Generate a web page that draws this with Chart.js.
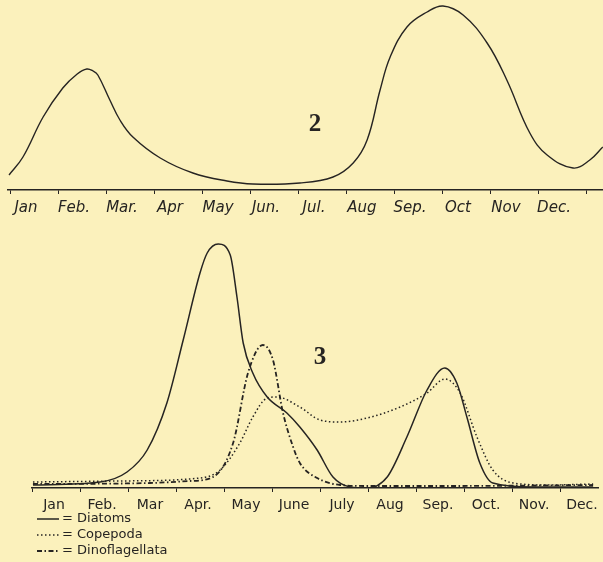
<!DOCTYPE html>
<html>
<head>
<meta charset="utf-8">
<script src="https://cdn.jsdelivr.net/npm/chart.js@4"></script>
<style>
  html, body { margin: 0; padding: 0; background: #fbf1bc; width: 603px; height: 562px; overflow: hidden; }
  canvas { position: absolute; left: 0; }
  #top { top: 0; }
  #bottom { top: 230px; }
</style>
</head>
<body>
<canvas id="top" width="603" height="220"></canvas>
<canvas id="bottom" width="603" height="332"></canvas>
<script>
// month labels, as lettered under each panel
const topMonths = ["Jan", "Feb.", "Mar.", "Apr", "May", "Jun.", "Jul.", "Aug", "Sep.", "Oct", "Nov", "Dec."];
const bottomMonths = ["Jan", "Feb.", "Mar", "Apr.", "May", "June", "July", "Aug", "Sep.", "Oct.", "Nov.", "Dec."];

// panel 2 - single curve (time in months from 1 Jan, relative abundance)
const panel2Time = [-0.02, 0.27, 0.69, 1.10, 1.40, 1.60, 1.73, 1.83, 2.08, 2.29, 2.56, 3.13, 3.81, 4.52, 5.06, 6.04, 6.73, 7.15, 7.44, 7.71, 7.92, 8.27, 8.69, 9.02, 9.44, 9.94, 10.35, 10.83, 11.19, 11.73, 12.08, 12.35];
const panel2Values = [15, 33, 73, 102, 116, 121, 119, 115, 90, 70, 53, 32, 17, 9, 6, 7, 13, 27, 50, 100, 133, 163, 178, 184, 175, 147, 110, 57, 35, 22, 30, 43];

// panel 3 - three groups
const diatomTime = [0.02, 1.42, 1.98, 2.40, 2.81, 3.15, 3.50, 3.65, 3.88, 4.13, 4.27, 4.40, 4.60, 4.90, 5.31, 5.58, 5.94, 6.27, 6.63, 6.98, 7.40, 7.81, 8.23, 8.60, 8.85, 9.06, 9.33, 9.60, 10.44, 11.69];
const diatomValues = [3, 6, 16, 38, 85, 148, 215, 235, 244, 233, 191, 145, 115, 91, 75, 61, 38, 11, 1, 0, 11, 51, 98, 120, 105, 71, 25, 5, 1, 1];

const copepodTime = [0.02, 1.83, 3.50, 3.92, 4.33, 4.60, 4.90, 5.10, 5.58, 6.00, 6.42, 6.98, 7.67, 8.23, 8.60, 8.92, 9.27, 9.60, 10.02, 10.79, 11.69];
const copepodValues = [6, 7, 10, 18, 45, 71, 90, 91, 81, 68, 66, 70, 81, 95, 109, 95, 51, 18, 5, 3, 4];

const dinoTime = [0.02, 2.46, 3.29, 3.77, 4.19, 4.50, 4.81, 5.02, 5.23, 5.44, 5.58, 5.94, 6.42, 6.98, 8.70, 11.69];
const dinoValues = [4, 5, 7, 11, 45, 115, 143, 128, 75, 41, 25, 10, 3, 2, 2, 3];

const INK = "#262422";

function pts(xs, ys) {
  return xs.map((x, i) => ({ x: x, y: ys[i] }));
}

function line(label, xs, ys, dash, width, smooth) {
  const ds = {
    label: label,
    data: pts(xs, ys),
    borderColor: INK,
    borderWidth: width,
    borderDash: dash,
    pointRadius: 0,
    fill: false,
  };
  if (smooth) ds.tension = smooth;
  else ds.cubicInterpolationMode = "monotone";
  return ds;
}

function monthAxis(min, max, names, offset, axisHeight, font) {
  return {
    type: "linear",
    min: min,
    max: max,
    afterBuildTicks: (scale) => {
      scale.ticks = names.map((_, i) => ({ value: i })).concat([{ value: names.length }]);
    },
    afterFit: (scale) => {
      scale.height = axisHeight;
      scale.paddingLeft = 0;
      scale.paddingRight = 0;
    },
    ticks: {
      autoSkip: false,
      maxRotation: 0,
      minRotation: 0,
      padding: 5,
      labelOffset: offset,
      color: INK,
      font: font,
      callback: (v) => names[v] || "",
    },
    grid: { drawOnChartArea: false, drawTicks: true, tickLength: 4, color: INK, lineWidth: 1 },
    border: { display: true, color: INK, width: 1.4 },
  };
}

// big panel numbers drawn in the plot
const panelNumber = {
  id: "panelNumber",
  afterDraw(chart, _args, opts) {
    const ctx = chart.ctx;
    ctx.save();
    ctx.fillStyle = INK;
    ctx.font = "bold 25px 'Liberation Serif', serif";
    ctx.textAlign = "center";
    ctx.textBaseline = "middle";
    ctx.fillText(opts.text, opts.x, opts.y);
    ctx.restore();
  },
};

// hand-drawn style key below the month axis
const keyPlugin = {
  id: "keyPlugin",
  afterDraw(chart, _args, opts) {
    if (!opts.show) return;
    const ctx = chart.ctx;
    ctx.save();
    chart.data.datasets.forEach((ds, i) => {
      const y = opts.y + i * opts.step;
      ctx.strokeStyle = INK;
      ctx.lineWidth = ds.borderWidth;
      ctx.setLineDash(ds.borderDash || []);
      ctx.beginPath();
      ctx.moveTo(opts.x, y);
      ctx.lineTo(opts.x + 22, y);
      ctx.stroke();
      ctx.setLineDash([]);
      ctx.fillStyle = INK;
      ctx.font = "13px 'DejaVu Sans', sans-serif";
      ctx.textBaseline = "middle";
      ctx.fillText("= " + ds.label, opts.x + 25, y);
    });
    ctx.restore();
  },
};

Chart.register(panelNumber, keyPlugin);

const common = {
  responsive: false,
  animation: false,
  events: [],
  plugins: { legend: { display: false }, tooltip: { enabled: false } },
};

new Chart(document.getElementById("top").getContext("2d"), {
  type: "line",
  data: { datasets: [line("Plankton", panel2Time, panel2Values, [], 1.4, 0.4)] },
  options: {
    ...common,
    layout: { padding: { left: 8, right: 0, top: 5, bottom: 0 } },
    scales: {
      x: monthAxis(-2 / 48, 593 / 48, topMonths, 16, 30, { family: "'DejaVu Sans', sans-serif", size: 15, style: "italic" }),
      y: { display: false, min: 0, max: 185 },
    },
    plugins: {
      ...common.plugins,
      panelNumber: { text: "2", x: 315, y: 125 },
      keyPlugin: { show: false },
    },
  },
});

new Chart(document.getElementById("bottom").getContext("2d"), {
  type: "line",
  data: {
    datasets: [
      line("Diatoms", diatomTime, diatomValues, [], 1.5),
      line("Copepoda", copepodTime, copepodValues, [1.5, 2.5], 1.5),
      line("Dinoflagellata", dinoTime, dinoValues, [5, 2.5, 1.5, 2.5], 1.8),
    ],
  },
  options: {
    ...common,
    layout: { padding: { left: 32, right: 5, top: 8, bottom: 0 } },
    scales: {
      x: monthAxis(0, 566 / 48, bottomMonths, 22, 74, { family: "'DejaVu Sans', sans-serif", size: 14 }),
      y: { display: false, min: 0, max: 250 },
    },
    plugins: {
      ...common.plugins,
      panelNumber: { text: "3", x: 320, y: 128 },
      keyPlugin: { show: true, x: 37, y: 289, step: 16 },
    },
  },
});
</script>
</body>
</html>
